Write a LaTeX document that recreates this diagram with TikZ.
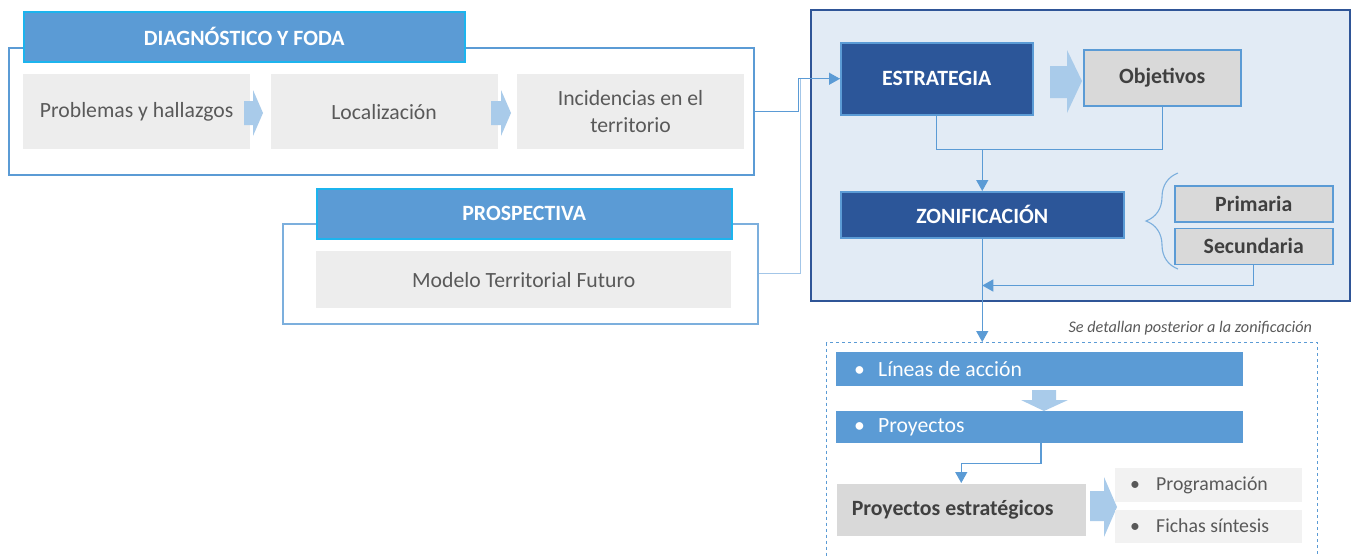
\documentclass[tikz,border=0pt]{standalone}
\usepackage{fontspec}
\setmainfont{Carlito}
\usetikzlibrary{arrows.meta,positioning,calc,decorations.pathreplacing}

\definecolor{midblue}{HTML}{5B9BD5}
\definecolor{cyanline}{HTML}{1CB4EE}
\definecolor{deepblue}{HTML}{2C5699}
\definecolor{panelfill}{HTML}{E2EBF5}
\definecolor{panelline}{HTML}{2F5597}
\definecolor{softgray}{HTML}{EDEDED}
\definecolor{midgray}{HTML}{D9D9D9}
\definecolor{palegray}{HTML}{F2F2F2}
\definecolor{textgray}{HTML}{595959}
\definecolor{inkgray}{HTML}{404040}
\definecolor{fatarrow}{HTML}{A9CBEA}
\definecolor{lightline}{HTML}{A3C6E8}

\begin{document}
\begin{tikzpicture}[x=1pt,y=-1pt,
  every node/.style={inner sep=0pt,anchor=north west},
  frame/.style={draw=midblue,line width=1.5pt,fill=white},
  hdr/.style={draw=cyanline,fill=midblue,line width=1.5pt,text=white,font=\fontsize{21.8}{26}\selectfont\bfseries},
  stepbox/.style={fill=softgray,text=textgray,align=center,font=\fontsize{21.7}{27}\selectfont,minimum width=227pt,minimum height=75pt},
  panel/.style={draw=panelline,fill=panelfill,line width=2pt},
  darkbox/.style={draw=midblue,fill=deepblue,line width=1.5pt,text=white,font=\fontsize{21.8}{26}\selectfont\bfseries},
  greybox/.style={draw=midblue,fill=midgray,line width=1.5pt,text=inkgray,font=\fontsize{21.8}{26}\selectfont\bfseries},
  bar/.style={fill=midblue,text=white,font=\fontsize{21.7}{26}\selectfont,align=flush left,text width=371pt,inner xsep=18pt,minimum height=34pt},
  subitem/.style={fill=palegray,text=textgray,font=\fontsize{19.8}{23}\selectfont,align=flush left,text width=157pt,inner xsep=15pt,minimum height=33pt},
  link/.style={draw=midblue,line width=1.3pt},
  arr/.style={link,-{Triangle[length=11pt,width=12pt]}},
  fat/.style={fill=fatarrow}
]
\useasboundingbox (0,0) rectangle (1351,555);

% left blocks
\node[frame,minimum width=745pt,minimum height=127pt] (diag) at (8,47) {};
\node[hdr,minimum width=441pt,minimum height=50pt] (diaghdr) at (23,11) {DIAGNÓSTICO Y FODA};
\node[stepbox] (prob) at (23,74) {Problemas y hallazgos};
\node[stepbox,right=20pt of prob] (loc) {Localización};
\node[stepbox,right=19pt of loc] (inc) {Incidencias en el\\territorio};
\fill[fat] (244,101) -- (253,101) -- (253,90) -- (263,113) -- (253,136) -- (253,125) -- (244,125) -- cycle;
\fill[fat] (491,101) -- (501,101) -- (501,90) -- (511,113) -- (501,136) -- (501,125) -- (491,125) -- cycle;

\node[frame,draw=midblue!80,minimum width=475pt,minimum height=100pt] (prosp) at (282,223) {};
\node[hdr,minimum width=415pt,minimum height=50pt] (prosphdr) at (316,188) {PROSPECTIVA};
\node[stepbox,minimum width=415pt,minimum height=57pt] (model) at (316,251) {Modelo Territorial Futuro};

% strategy panel
\node[panel,minimum width=539pt,minimum height=291pt] (zone) at (810,9) {};
\node[darkbox,minimum width=192pt,minimum height=72pt] (estr) at (840,42) {ESTRATEGIA};
\node[greybox,minimum width=157pt,minimum height=56pt] (obj) at (1083,49) {Objetivos};
\fill[fat] (1050,66) -- (1067,66) -- (1067,50) -- (1082,81) -- (1067,113) -- (1067,98) -- (1050,98) -- cycle;
\node[darkbox,minimum width=283pt,minimum height=46pt] (zon) at (840,191) {ZONIFICACIÓN};
\node[greybox,minimum width=158pt,minimum height=36pt] (prim) at (1174,185) {Primaria};
\node[greybox,minimum width=158pt,minimum height=36pt,below=5pt of prim] (sec) {Secundaria};
\draw[draw=midblue!80,line width=1.1pt,decorate,decoration={brace,amplitude=32pt}] (1178,269) -- (1178,173);

\draw[lightline,line width=1.3pt] (prosp.east) -- ++(42,0) |- (estr.west);
\draw[arr] (diag.east) -- ++(44,0) |- (estr.west);
\coordinate (split) at ($(estr.south)+(0,34)$);
\draw[link] (estr.south) -- (split) -| (obj.south);
\draw[arr] (split -| zon.north) -- (zon.north);
\draw[arr] (sec.south) |- ($(zon.south)+(0,47)$);

% detail block
\node[draw=midblue,dashed,line width=1.2pt,minimum width=491pt,minimum height=230pt] (detail) at (826,342) {};
\node[anchor=base east,text=textgray,font=\fontsize{16.2}{19}\selectfont\itshape] (note) at ($(detail.north east)+(-6,-10)$) {Se detallan posterior a la zonificación};
\draw[arr] (zon.south) -- (zon.south |- detail.north);
\node[bar] (lin) at (836,352) {\makebox[24pt][l]{•}Líneas de acción};
\node[bar,minimum height=32pt] (proy) at (836,411) {\makebox[24pt][l]{•}Proyectos};
\fill[fat] (1032,390) -- (1056,390) -- (1056,400) -- (1068,400) -- (1044,411) -- (1021,400) -- (1032,400) -- cycle;
\node[greybox,draw=none,text width=219pt,align=flush left,inner xsep=15pt,minimum height=52pt] (pest) at (836,483) {Proyectos estratégicos};
\draw[arr] ($(proy.south west)+(205,0)$) -- ++(0,20) -| (pest.north);
\fill[fat] (1090,491) -- (1104,491) -- (1104,477) -- (1117,507) -- (1104,537) -- (1104,521) -- (1090,521) -- cycle;
\node[subitem,minimum height=34pt] (prog) at (1115,468) {\makebox[26pt][l]{•}Programación};
\node[subitem,below=7pt of prog] (fich) {\makebox[26pt][l]{•}Fichas síntesis};
\end{tikzpicture}
\end{document}
